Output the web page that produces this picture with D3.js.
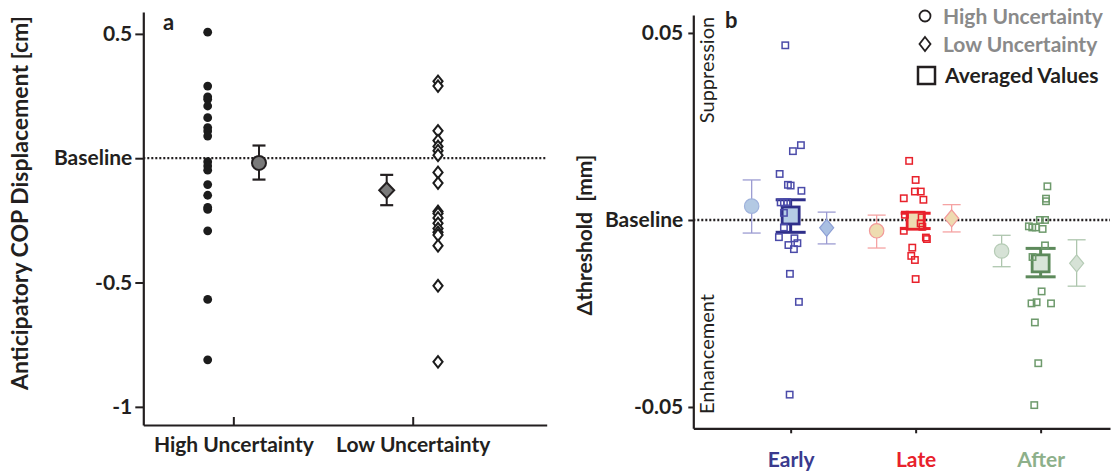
<!DOCTYPE html>
<html><head><meta charset="utf-8">
<script src="https://cdn.jsdelivr.net/npm/d3@7"></script>
<style>body{margin:0;background:#fff} svg{display:block;font-family:Lato, "Open Sans", sans-serif}</style>
</head><body><svg width="1111" height="472"></svg>
<script>
// ---------------- DATA ----------------
// Panel a
const aCategories = ["High Uncertainty", "Low Uncertainty"];
const aHighValues = [0.507, 0.290, 0.247, 0.237, 0.210, 0.163, 0.123, 0.109, 0.089, -0.014, -0.031, -0.048, -0.106, -0.149, -0.198, -0.206, -0.292, -0.568, -0.811];
const aLowValues = [0.309, 0.290, 0.110, 0.071, 0.047, 0.030, 0.012, -0.057, -0.100, -0.214, -0.222, -0.240, -0.262, -0.283, -0.298, -0.309, -0.352, -0.513, -0.819];
const aMean = [-0.019, -0.129];
const aErrLow = [-0.086, -0.189];
const aErrHigh = [0.051, -0.067];
const aTickValues = [0.5, 0, -0.5, -1];
const aTickLabels = ["0.5", "Baseline", "-0.5", "-1"];

// Panel b
const bCategories = ["Early", "Late", "After"];
const bTickValues = [0.05, 0, -0.05];
const bTickLabels = ["0.05", "Baseline", "-0.05"];
const earlyValues = [0.0467, 0.0184, 0.0200, 0.0123, 0.0094, 0.0092, 0.0078, 0.0047, 0.0047, 0.0048, 0.0019, -0.0020, -0.0046, -0.0049, -0.0062, -0.0067, -0.0078, -0.0144, -0.0219, -0.0467];
const earlyJitter = [-0.043, 0.018, 0.082, -0.088, -0.022, 0.000, 0.086, -0.080, -0.054, -0.028, -0.054, -0.054, -0.094, 0.030, 0.054, -0.018, 0.026, -0.006, 0.066, -0.008];
const lateValues = [0.0158, 0.0107, 0.0076, 0.0076, 0.0058, 0.0054, 0.0014, 0.0007, -0.0009, -0.0018, -0.0029, -0.0047, -0.0051, -0.0074, -0.0096, -0.0107, -0.0158];
const lateJitter = [-0.052, 0.000, -0.006, 0.041, -0.095, 0.062, -0.086, 0.048, 0.040, 0.054, -0.095, 0.082, 0.090, -0.027, -0.035, -0.006, 0.000];
const afterValues = [0.0090, 0.0057, 0.0050, 0.0000, 0.0000, -0.0017, -0.0020, -0.0020, -0.0024, -0.0068, -0.0099, -0.0191, -0.0223, -0.0220, -0.0223, -0.0274, -0.0383, -0.0495];
const afterJitter = [0.054, 0.043, 0.043, -0.006, 0.035, -0.094, -0.067, -0.038, 0.016, 0.035, -0.065, 0.008, -0.073, -0.032, 0.083, -0.046, -0.019, -0.051];
const hiMean = [0.0037, -0.0029, -0.0083];
const hiLow = [-0.0035, -0.0075, -0.0125];
const hiHigh = [0.0107, 0.0013, -0.0041];
const loMean = [-0.0021, 0.00045, -0.0116];
const loLow = [-0.0064, -0.0032, -0.0177];
const loHigh = [0.0021, 0.0041, -0.0053];
const avgMean = [0.0012, -0.0002, -0.0116];
const avgLow = [-0.0033, -0.0023, -0.0152];
const avgHigh = [0.0054, 0.0018, -0.0076];
const legendLabels = ["High Uncertainty", "Low Uncertainty", "Averaged Values"];

// ---------------- STYLE ----------------
const ink = "#231f20";
const catStyle = [
  {ind:"#4b4ba9", avgStroke:"#2f2f8a", avgFill:"#b5cce6", hiFill:"#b3c9e3", hiStroke:"#9fb2dc", err:"#9c9cd2", loFill:"#a9bfe2", loStroke:"#8c9ed4", label:"#3a3a8e"},
  {ind:"#e8212b", avgStroke:"#e8212b", avgFill:"#eedcb2", hiFill:"#eedcb0", hiStroke:"#f29a9a", err:"#f5a3a3", loFill:"#eedab0", loStroke:"#f29a9a", label:"#e8212b"},
  {ind:"#6e9a6c", avgStroke:"#5d8a5b", avgFill:"#d9e5d9", hiFill:"#d6e2d6", hiStroke:"#b5cbb5", err:"#aec6ae", loFill:"#d6e2d6", loStroke:"#b5cbb5", label:"#8db08a"}
];
const diamond = (w, h) => `M0,${-h}L${w},0L0,${h}L${-w},0Z`;

const svg = d3.select("svg");

// ================= PANEL A =================
const ya = d3.scaleLinear().domain([-1.073, 0.588]).range([425, 12]);
const xa = d3.scaleLinear().domain([-0.502, 1.747]).range([143.3, 546.7]);
const A = svg.append("g");

A.append("line").attr("x1", xa.range()[0]).attr("x2", xa.range()[1])
  .attr("y1", ya(0)).attr("y2", ya(0))
  .attr("stroke", ink).attr("stroke-width", 2.2).attr("stroke-dasharray", "2,2");

const yAxA = A.append("g").attr("transform", `translate(${xa.range()[0]},0)`)
  .call(d3.axisLeft(ya).tickValues(aTickValues).tickFormat((d, i) => aTickLabels[i]).tickSize(8).tickSizeOuter(0).tickPadding(3));
const xAxA = A.append("g").attr("transform", `translate(0,${ya.range()[0]})`)
  .call(d3.axisBottom(xa).tickValues([0, 1]).tickFormat((d, i) => aCategories[i]).tickSizeInner(-8).tickSizeOuter(0).tickPadding(12));
[yAxA, xAxA].forEach(g => {
  g.select(".domain").attr("stroke", ink).attr("stroke-width", 2.2);
  g.selectAll(".tick line").attr("stroke", ink).attr("stroke-width", 2);
  g.selectAll(".tick text").attr("fill", ink).style("font-size", "21px").style("font-weight", 700).style("font-family", "Lato");
});

// high dots
A.selectAll(".hd").data(aHighValues).join("circle")
  .attr("cx", xa(0 - 0.143)).attr("cy", d => ya(d)).attr("r", 4.4).attr("fill", "#1c1c1c");
// low diamonds
A.selectAll(".ld").data(aLowValues).join("path")
  .attr("transform", d => `translate(${xa(1 + 0.141)},${ya(d)})`)
  .attr("d", diamond(4.6, 5.8)).attr("fill", "#fff").attr("stroke", "#1c1c1c").attr("stroke-width", 2);

// means with error bars
const aMeanOff = [0.143, -0.145];
aMean.forEach((m, i) => {
  const cx = xa(i + aMeanOff[i]);
  const g = A.append("g");
  g.append("line").attr("x1", cx).attr("x2", cx).attr("y1", ya(aErrLow[i])).attr("y2", ya(aErrHigh[i])).attr("stroke", ink).attr("stroke-width", 2);
  [aErrLow[i], aErrHigh[i]].forEach(v => g.append("line").attr("x1", cx - 6.5).attr("x2", cx + 6.5).attr("y1", ya(v)).attr("y2", ya(v)).attr("stroke", ink).attr("stroke-width", 2.2));
  if (i === 0) g.append("circle").attr("cx", cx).attr("cy", ya(m)).attr("r", 7).attr("fill", "#7a7a7a").attr("stroke", ink).attr("stroke-width", 2);
  else g.append("path").attr("transform", `translate(${cx},${ya(m)})`).attr("d", diamond(7.5, 7.8)).attr("fill", "#7a7a7a").attr("stroke", ink).attr("stroke-width", 2);
});

A.append("text").attr("x", 163).attr("y", 30).text("a").attr("fill", ink).style("font-size", "22px").style("font-weight", 700);
A.append("text").attr("transform", "translate(28,203) rotate(-90)").attr("text-anchor", "middle")
  .text("Anticipatory COP Displacement [cm]").attr("fill", ink).style("font-size", "23px").style("font-weight", 700);

// ================= PANEL B =================
const yb = d3.scaleLinear().domain([-0.0557, 0.0548]).range([428.3, 15]);
const xb = d3.scaleLinear().domain([-0.779, 2.555]).range([693.3, 1110]);
const B = svg.append("g");

B.append("line").attr("x1", xb.range()[0]).attr("x2", xb.range()[1])
  .attr("y1", yb(0)).attr("y2", yb(0))
  .attr("stroke", ink).attr("stroke-width", 2.4).attr("stroke-dasharray", "2,2");

const yAxB = B.append("g").attr("transform", `translate(${xb.range()[0]},0)`)
  .call(d3.axisLeft(yb).tickValues(bTickValues).tickFormat((d, i) => bTickLabels[i]).tickSize(5).tickSizeOuter(0).tickPadding(5));
const xAxB = B.append("g").attr("transform", `translate(0,${yb.range()[0]})`)
  .call(d3.axisBottom(xb).tickValues([0, 1, 2]).tickFormat((d, i) => bCategories[i]).tickSize(5).tickSizeOuter(0).tickPadding(19));
[yAxB, xAxB].forEach(g => {
  g.select(".domain").attr("stroke", ink).attr("stroke-width", 2.2);
  g.selectAll(".tick line").attr("stroke", ink).attr("stroke-width", 2);
  g.selectAll(".tick text").attr("fill", ink).style("font-size", "21px").style("font-weight", 700).style("font-family", "Lato");
});
xAxB.selectAll(".tick text").attr("fill", (d, i) => catStyle[i].label);

const indValues = [earlyValues, lateValues, afterValues];
const indJitter = [earlyJitter, lateJitter, afterJitter];

bCategories.forEach((c, i) => {
  const st = catStyle[i];
  const g = B.append("g");
  // High uncertainty circle
  const hx = xb(i - 0.312);
  g.append("line").attr("x1", hx).attr("x2", hx).attr("y1", yb(hiLow[i])).attr("y2", yb(hiHigh[i])).attr("stroke", st.err).attr("stroke-width", 1.3);
  [hiLow[i], hiHigh[i]].forEach(v => g.append("line").attr("x1", hx - 9).attr("x2", hx + 9).attr("y1", yb(v)).attr("y2", yb(v)).attr("stroke", st.err).attr("stroke-width", 1.3));
  g.append("circle").attr("cx", hx).attr("cy", yb(hiMean[i])).attr("r", 7.2).attr("fill", st.hiFill).attr("stroke", st.hiStroke).attr("stroke-width", 1.2);
  // Low uncertainty diamond
  const lx = xb(i + 0.288);
  g.append("line").attr("x1", lx).attr("x2", lx).attr("y1", yb(loLow[i])).attr("y2", yb(loHigh[i])).attr("stroke", st.err).attr("stroke-width", 1.3);
  [loLow[i], loHigh[i]].forEach(v => g.append("line").attr("x1", lx - 9).attr("x2", lx + 9).attr("y1", yb(v)).attr("y2", yb(v)).attr("stroke", st.err).attr("stroke-width", 1.3));
  g.append("path").attr("transform", `translate(${lx},${yb(loMean[i])})`).attr("d", diamond(7, 8.5)).attr("fill", st.loFill).attr("stroke", st.loStroke).attr("stroke-width", 1.2);
  // Averaged square
  const ax = xb(i);
  g.append("line").attr("x1", ax).attr("x2", ax).attr("y1", yb(avgLow[i])).attr("y2", yb(avgHigh[i])).attr("stroke", st.avgStroke).attr("stroke-width", 3);
  [avgLow[i], avgHigh[i]].forEach(v => g.append("line").attr("x1", ax - 15).attr("x2", ax + 15).attr("y1", yb(v)).attr("y2", yb(v)).attr("stroke", st.avgStroke).attr("stroke-width", 3));
  g.append("rect").attr("x", ax - 8.5).attr("y", yb(avgMean[i]) - 8.5).attr("width", 17).attr("height", 17)
    .attr("fill", st.avgFill).attr("stroke", st.avgStroke).attr("stroke-width", 2.8);
  // individual squares
  g.selectAll(".ind").data(indValues[i]).join("rect")
    .attr("x", (d, k) => xb(i + indJitter[i][k]) - 3.2).attr("y", d => yb(d) - 3.2)
    .attr("width", 6.4).attr("height", 6.4).attr("fill", "none").attr("stroke", st.ind).attr("stroke-width", 1.5);
});

B.append("text").attr("x", 725).attr("y", 28).text("b").attr("fill", ink).style("font-size", "22px").style("font-weight", 700);
B.append("text").attr("transform", "translate(592,235) rotate(-90)").attr("text-anchor", "middle")
  .text("\u0394threshold  [mm]").attr("fill", ink).style("font-size", "21px").style("font-weight", 700).style("white-space", "pre");
B.append("text").attr("transform", "translate(714,70) rotate(-90)").attr("text-anchor", "middle")
  .text("Suppression").attr("fill", ink).style("font-size", "20px");
B.append("text").attr("transform", "translate(714,354) rotate(-90)").attr("text-anchor", "middle")
  .text("Enhancement").attr("fill", ink).style("font-size", "20px");

// legend
const L = svg.append("g");
const legY = [16, 44, 75.5];
L.append("circle").attr("cx", 925).attr("cy", legY[0]).attr("r", 5.5).attr("fill", "none").attr("stroke", ink).attr("stroke-width", 1.8);
L.append("path").attr("transform", `translate(925,${legY[1]})`).attr("d", diamond(5.5, 7)).attr("fill", "none").attr("stroke", ink).attr("stroke-width", 1.8);
L.append("rect").attr("x", 918).attr("y", legY[2] - 8.5).attr("width", 17).attr("height", 17).attr("fill", "none").attr("stroke", ink).attr("stroke-width", 2.5);
const legColors = ["#8a8a8a", "#8a8a8a", ink];
const legX = [943, 943, 945];
legendLabels.forEach((t, i) => L.append("text").attr("x", legX[i]).attr("y", legY[i] + 7.5).text(t)
  .attr("fill", legColors[i]).style("font-size", "21px").style("font-weight", 700));
</script>
</body></html>
